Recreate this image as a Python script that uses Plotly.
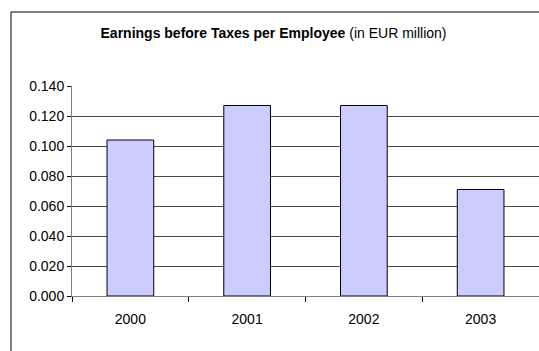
import plotly.graph_objects as go

years = ["2000", "2001", "2002", "2003"]
ebt_per_employee = [0.104, 0.127, 0.127, 0.071]
y_ticks = [0.000, 0.020, 0.040, 0.060, 0.080, 0.100, 0.120, 0.140]

W, H = 539, 351
L, R, T, B = 72, 0, 86, 55

fig = go.Figure(
    go.Bar(
        x=years,
        y=ebt_per_employee,
        width=0.4,
        marker=dict(color="#CCCCFF", line=dict(color="#000000", width=1)),
    )
)

font = "Liberation Sans, Arial, sans-serif"
fig.update_layout(
    width=W,
    height=H,
    margin=dict(l=L, r=R, t=T, b=B, pad=0),
    paper_bgcolor="white",
    plot_bgcolor="white",
    showlegend=False,
    font=dict(family=font, size=14, color="#000000"),
    title=dict(
        text="<b>Earnings before Taxes per Employee</b> (in EUR million)",
        x=273.5 / W,
        xanchor="center",
        y=1 - 33 / H,
        yanchor="middle",
        font=dict(family=font, size=14, color="#000000"),
    ),
    xaxis=dict(
        type="category",
        range=[-0.5, 3.5],
        showgrid=False,
        showline=True,
        linecolor="#808080",
        linewidth=1,
        ticks="outside",
        tickson="boundaries",
        ticklen=5,
        tickcolor="#000000",
        tickfont=dict(size=14),
        ticklabelstandoff=10,
    ),
    yaxis=dict(
        range=[0, 0.14],
        tickvals=y_ticks,
        tickformat=".3f",
        showgrid=True,
        gridcolor="#4a4a4a",
        gridwidth=1,
        zeroline=False,
        showline=True,
        linecolor="#808080",
        linewidth=1,
        ticks="outside",
        ticklen=4,
        tickcolor="#000000",
        tickfont=dict(size=14),
    ),
)

# outer chart-area border (left and top edges visible in the reference)
plot_w = W - L - R
plot_h = H - T - B
fig.add_shape(
    type="rect",
    xref="paper",
    yref="paper",
    x0=(11 - L) / plot_w,
    x1=(W + 5 - L) / plot_w,
    y0=-(H + 5 - (T + plot_h)) / plot_h,
    y1=(T - 12) / plot_h + 1,
    line=dict(color="#000000", width=1),
    fillcolor="rgba(0,0,0,0)",
    layer="above",
)

fig.write_html(
    "out.html",
    config={"displayModeBar": False},
    post_script="document.body.style.margin='0';document.body.style.overflow='hidden';",
)
